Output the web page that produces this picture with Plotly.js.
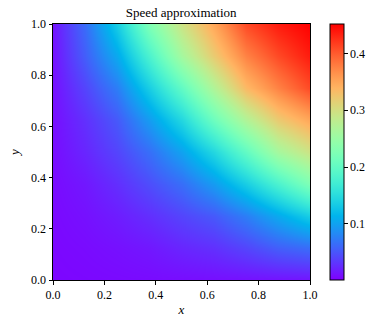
<!DOCTYPE html>
<html>
<head>
<meta charset="utf-8">
<script src="https://cdn.plot.ly/plotly-3.0.1.min.js"></script>
<style>html,body{margin:0;padding:0;background:#fff;}#chart{width:383px;height:317px;}</style>
</head>
<body>
<div id="chart"></div>
<script>
// Grid positions (cell centres) and values
var xVals = [0, 0.125, 0.25, 0.375, 0.5, 0.625, 0.75, 0.875, 1.0];
var yVals = [0, 0.125, 0.25, 0.375, 0.5, 0.625, 0.75, 0.875, 1.0];
// speed[row for y][column for x]
var speed = [
  [0.004, 0.005, 0.006, 0.007, 0.008, 0.009, 0.010, 0.011, 0.012],
  [0.005, 0.007, 0.010, 0.014, 0.022, 0.028, 0.040, 0.055, 0.064],
  [0.006, 0.010, 0.017, 0.027, 0.040, 0.052, 0.075, 0.105, 0.135],
  [0.007, 0.014, 0.027, 0.045, 0.065, 0.095, 0.135, 0.180, 0.225],
  [0.008, 0.022, 0.040, 0.065, 0.100, 0.145, 0.200, 0.260, 0.295],
  [0.009, 0.028, 0.052, 0.095, 0.145, 0.210, 0.270, 0.320, 0.350],
  [0.010, 0.040, 0.075, 0.135, 0.200, 0.270, 0.335, 0.375, 0.410],
  [0.011, 0.055, 0.105, 0.180, 0.260, 0.320, 0.375, 0.410, 0.437],
  [0.012, 0.064, 0.135, 0.225, 0.295, 0.350, 0.410, 0.437, 0.452]
];
var axisTicks = [0, 0.2, 0.4, 0.6, 0.8, 1.0];
var barTicks = [0.1, 0.2, 0.3, 0.4];
var titleText = 'Speed approximation';

// matplotlib "rainbow" colour map as a Plotly colorscale
var rainbow = [];
for (var k = 0; k <= 32; k++) {
  var t = k / 32;
  var r = Math.min(1, Math.abs(2 * t - 0.5));
  var g = Math.sin(Math.PI * t);
  var b = Math.cos(Math.PI * t / 2);
  rainbow.push([t, 'rgb(' + Math.round(r * 255) + ',' + Math.round(Math.max(0, g) * 255) + ',' + Math.round(Math.max(0, b) * 255) + ')']);
}

var font = {family: 'Liberation Serif, DejaVu Serif, serif', size: 12, color: '#000'};

var trace = {
  type: 'heatmap',
  x: xVals,
  y: yVals,
  z: speed,
  zmin: 0.001,
  zmax: 0.452,
  zsmooth: 'best',
  colorscale: rainbow,
  colorbar: {
    x: 1.078, xanchor: 'left', xref: 'paper',
    y: 0, yanchor: 'bottom', len: 1, lenmode: 'fraction',
    thickness: 14, thicknessmode: 'pixels',
    outlinewidth: 1, outlinecolor: '#000',
    ticks: 'outside', ticklen: 3.5, tickwidth: 1, tickcolor: '#000',
    tickvals: barTicks, ticktext: barTicks.map(function(v){return v.toFixed(1);}),
    tickfont: font, xpad: 0, ypad: 0
  },
  hoverinfo: 'none'
};

var axisBase = {
  range: [0, 1], tickvals: axisTicks, ticktext: axisTicks.map(function(v){return v.toFixed(1);}),
  ticks: 'outside', ticklen: 3.5, tickwidth: 1, tickcolor: '#000',
  showline: true, linecolor: '#000', linewidth: 1, mirror: true,
  showgrid: false, zeroline: false, tickfont: font
};

var layout = {
  width: 383, height: 317,
  margin: {l: 53, r: 73, t: 24, b: 37, pad: 0},
  paper_bgcolor: '#fff', plot_bgcolor: '#fff',
  font: font,
  title: {text: titleText, font: {family: font.family, size: 13, color: '#000'}, x: 0.473, xanchor: 'center', y: 0.962, yanchor: 'middle'},
  xaxis: Object.assign({}, axisBase, {title: {text: '<i>x</i>', font: {family: font.family, size: 13}, standoff: 6}}),
  yaxis: Object.assign({}, axisBase, {title: {text: '<i>y</i>', font: {family: font.family, size: 13}, standoff: 8}})
};

Plotly.newPlot('chart', [trace], layout, {displayModeBar: false, staticPlot: true});
</script>
</body>
</html>
